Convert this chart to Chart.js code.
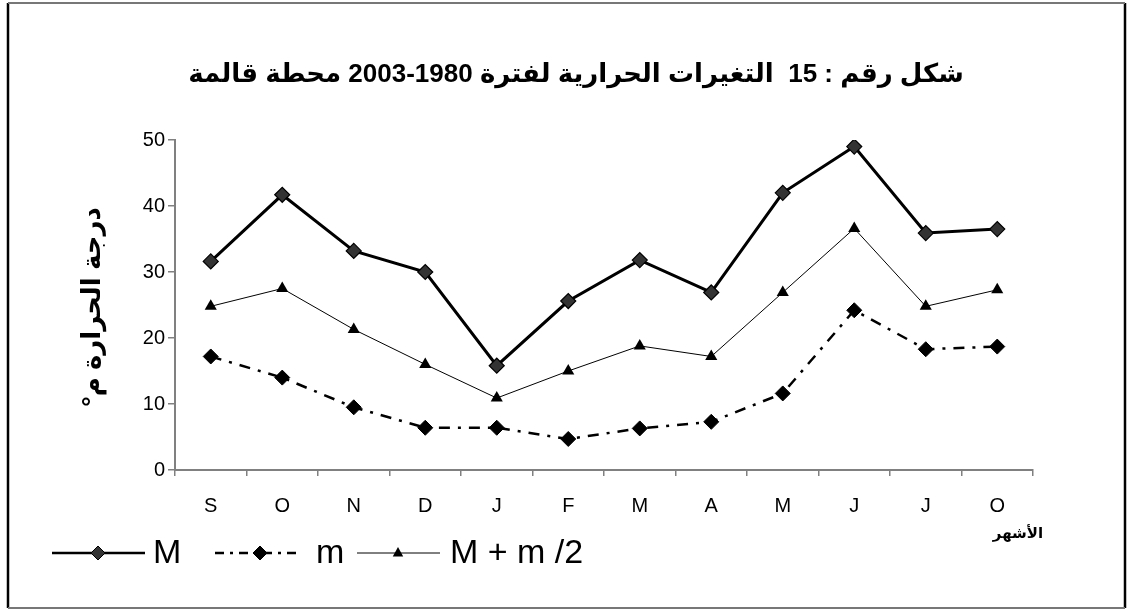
<!DOCTYPE html>
<html>
<head>
<meta charset="utf-8">
<script src="https://cdn.jsdelivr.net/npm/chart.js@4.4.0/dist/chart.umd.min.js"></script>
<style>
  html, body { margin: 0; padding: 0; background: #fff; }
  #wrap { width: 1129px; height: 611px; }
</style>
</head>
<body>
<div id="wrap"><canvas id="tempChart" width="1129" height="611"></canvas></div>
<script>
// data
const months = ['S', 'O', 'N', 'D', 'J', 'F', 'M', 'A', 'M', 'J', 'J', 'O'];
const maxTemp = [31.6, 41.7, 33.2, 30.0, 15.8, 25.6, 31.8, 26.9, 42.0, 49.0, 35.9, 36.5];
const minTemp = [17.2, 14.0, 9.5, 6.4, 6.4, 4.7, 6.3, 7.3, 11.6, 24.2, 18.3, 18.7];
const meanTemp = [24.8, 27.5, 21.3, 16.0, 10.9, 15.0, 18.8, 17.2, 26.9, 36.6, 24.8, 27.3];
const yTicks = [0, 10, 20, 30, 40, 50];
const seriesNames = ['M', 'm', 'M + m /2'];

const titleText = 'شكل رقم : 15  التغيرات الحرارية لفترة 1980-2003 محطة قالمة';
const yTitle = 'درجة الحرارة م°';
const xTitle = 'الأشهر';

const FONT = "'Liberation Sans', Arial, 'DejaVu Sans', sans-serif";

function diamond(ctx, x, y, r, fill) {
    ctx.beginPath();
    ctx.moveTo(x, y - r);
    ctx.lineTo(x + r, y);
    ctx.lineTo(x, y + r);
    ctx.lineTo(x - r, y);
    ctx.closePath();
    ctx.fillStyle = fill;
    ctx.fill();
    ctx.lineWidth = 1;
    ctx.strokeStyle = '#000';
    ctx.stroke();
}

function triangle(ctx, x, y, r) {
    ctx.beginPath();
    ctx.moveTo(x, y - r);
    ctx.lineTo(x + r * 0.87, y + r * 0.6);
    ctx.lineTo(x - r * 0.87, y + r * 0.6);
    ctx.closePath();
    ctx.fillStyle = '#000';
    ctx.fill();
}

const decorPlugin = {
    id: 'decor',
    beforeDraw(chart) {
        const ctx = chart.ctx;
        ctx.save();
        ctx.fillStyle = '#fff';
        ctx.fillRect(0, 0, chart.width, chart.height);
        ctx.restore();
    },
    afterDraw(chart) {
        const ctx = chart.ctx;
        ctx.save();

        // frame
        ctx.strokeStyle = '#000';
        ctx.lineWidth = 2.5;
        ctx.beginPath();
        ctx.moveTo(8, 3); ctx.lineTo(8, 608);
        ctx.moveTo(1125, 3); ctx.lineTo(1125, 608);
        ctx.stroke();
        ctx.strokeStyle = '#777';
        ctx.lineWidth = 2;
        ctx.beginPath();
        ctx.moveTo(8, 3); ctx.lineTo(1125, 3);
        ctx.moveTo(8, 608); ctx.lineTo(1125, 608);
        ctx.stroke();

        // title
        ctx.fillStyle = '#000';
        ctx.direction = 'rtl';
        ctx.font = 'bold 26px ' + FONT;
        ctx.textAlign = 'center';
        ctx.textBaseline = 'middle';
        ctx.fillText(titleText, 576, 75);

        // y axis title
        ctx.save();
        ctx.translate(93, 307);
        ctx.rotate(-Math.PI / 2);
        ctx.direction = 'rtl';
        ctx.font = 'bold 26px ' + FONT;
        ctx.textAlign = 'center';
        ctx.fillText(yTitle, 0, 0);
        ctx.restore();

        // x axis title
        ctx.direction = 'rtl';
        ctx.font = 'bold 15px ' + FONT;
        ctx.textAlign = 'center';
        ctx.fillText(xTitle, 1018, 534);

        // legend
        const ly = 553;
        ctx.direction = 'ltr';
        ctx.strokeStyle = '#000';
        ctx.lineWidth = 2.5;
        ctx.beginPath(); ctx.moveTo(52, ly); ctx.lineTo(145, ly); ctx.stroke();
        diamond(ctx, 98, ly, 7, '#333');

        ctx.setLineDash([9, 6, 3, 6]);
        ctx.lineWidth = 2.5;
        ctx.beginPath(); ctx.moveTo(215, ly); ctx.lineTo(300, ly); ctx.stroke();
        ctx.setLineDash([]);
        diamond(ctx, 260, ly, 7, '#000');

        ctx.lineWidth = 1;
        ctx.beginPath(); ctx.moveTo(357, ly); ctx.lineTo(440, ly); ctx.stroke();
        triangle(ctx, 398, ly, 6);

        ctx.fillStyle = '#000';
        ctx.font = '34px ' + FONT;
        ctx.textAlign = 'left';
        ctx.textBaseline = 'middle';
        ctx.fillText(seriesNames[0], 153, ly + 1);
        ctx.fillText(seriesNames[1], 316, ly + 1);
        ctx.fillText(seriesNames[2], 450, ly + 1);

        ctx.restore();
    }
};

const ctx = document.getElementById('tempChart').getContext('2d');
new Chart(ctx, {
    type: 'line',
    data: {
        labels: months,
        datasets: [
            {
                label: seriesNames[0],
                data: maxTemp,
                borderColor: '#000',
                borderWidth: 3,
                pointStyle: 'rectRot',
                pointRadius: 7.5,
                pointBackgroundColor: '#333',
                pointBorderColor: '#000',
                pointBorderWidth: 1.2,
                tension: 0
            },
            {
                label: seriesNames[1],
                data: minTemp,
                borderColor: '#000',
                borderWidth: 2.5,
                borderDash: [11, 8, 3, 8],
                pointStyle: 'rectRot',
                pointRadius: 7.5,
                pointBackgroundColor: '#000',
                pointBorderColor: '#000',
                pointBorderWidth: 1,
                tension: 0
            },
            {
                label: seriesNames[2],
                data: meanTemp,
                borderColor: '#000',
                borderWidth: 1,
                pointStyle: 'triangle',
                pointRadius: 7,
                pointBackgroundColor: '#000',
                pointBorderColor: '#000',
                pointBorderWidth: 0,
                tension: 0
            }
        ]
    },
    options: {
        responsive: false,
        animation: false,
        layout: { padding: { top: 140, right: 96, left: 0, bottom: 0 } },
        plugins: {
            legend: { display: false },
            title: { display: false },
            tooltip: { enabled: false }
        },
        scales: {
            x: {
                offset: true,
                grid: {
                    offset: true,
                    drawOnChartArea: false,
                    drawTicks: true,
                    tickLength: 6,
                    color: '#808080',
                    lineWidth: 1.5
                },
                border: { color: '#808080', width: 2 },
                ticks: {
                    color: '#000',
                    font: { family: FONT, size: 20 },
                    padding: 18,
                    maxRotation: 0,
                    autoSkip: false
                },
                afterFit(scale) { scale.height = 141; }
            },
            y: {
                min: yTicks[0],
                max: yTicks[yTicks.length - 1],
                afterBuildTicks(scale) { scale.ticks = yTicks.map(v => ({ value: v })); },
                grid: {
                    drawOnChartArea: false,
                    drawTicks: true,
                    tickLength: 7,
                    color: '#808080',
                    lineWidth: 1.5
                },
                border: { color: '#808080', width: 2 },
                ticks: {
                    color: '#000',
                    font: { family: FONT, size: 20 },
                    padding: 3
                },
                afterFit(scale) { scale.width = 175; }
            }
        }
    },
    plugins: [decorPlugin]
});
</script>
</body>
</html>
